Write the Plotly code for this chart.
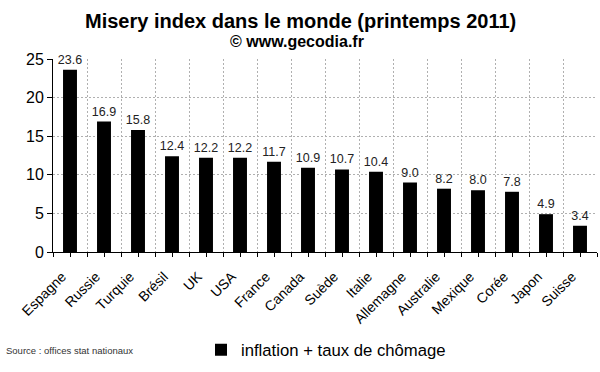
import plotly.graph_objects as go

countries = ["Espagne", "Russie", "Turquie", "Brésil", "UK", "USA", "France", "Canada",
             "Suède", "Italie", "Allemagne", "Australie", "Mexique", "Corée", "Japon", "Suisse"]
misery = [23.6, 16.9, 15.8, 12.4, 12.2, 12.2, 11.7, 10.9, 10.7, 10.4, 9.0, 8.2, 8.0, 7.8, 4.9, 3.4]
y_ticks = [0, 5, 10, 15, 20, 25]

FONT = "Liberation Sans, Arial, sans-serif"
L, R, T, B = 53, 3, 59, 120
W, H = 600, 372
pw, ph = W - L - R, H - T - B


def px2x(px):
    return (px - L) / pw


def px2y(py):
    return (H - B - py) / ph


idx = list(range(len(countries)))

fig = go.Figure()
fig.add_trace(go.Bar(
    x=idx, y=misery, name="inflation + taux de chômage",
    marker=dict(color="black", line=dict(color="black", width=0)),
    text=[f"{v:.1f}" for v in misery], textposition="outside",
    textfont=dict(size=12.5, color="#222", family=FONT),
    constraintext="none",
    cliponaxis=False, showlegend=True,
))

fig.update_layout(
    width=W, height=H,
    margin=dict(l=L, r=R, t=T, b=B, autoexpand=False),
    paper_bgcolor="white", plot_bgcolor="white",
    font=dict(family=FONT, color="black"),
    bargap=0.59,
    showlegend=True,
    legend=dict(orientation="h", x=px2x(201), xanchor="left", y=px2y(350), yanchor="middle",
                font=dict(size=16.7, family=FONT), bgcolor="rgba(0,0,0,0)"),
    xaxis=dict(
        type="linear", range=[-0.5, len(countries) - 0.5],
        tickvals=idx, ticktext=countries,
        tickangle=-45, tickfont=dict(size=14),
        ticklabelshift=-8, ticklabelstandoff=6,
        ticks="outside", ticklen=4, tickcolor="black",
        showgrid=False, zeroline=False,
        minor=dict(tick0=-0.5, dtick=1, ticks="outside", ticklen=4, tickcolor="black",
                   showgrid=True, gridcolor="#b0b0b0", griddash="2px,2px", gridwidth=1),
        showline=True, linecolor="black", linewidth=1, automargin=False,
    ),
    yaxis=dict(
        range=[0, 25], tickvals=y_ticks, tickfont=dict(size=16),
        ticks="outside", ticklen=5, tickcolor="black",
        showgrid=True, gridcolor="#b0b0b0", griddash="2px,2px", gridwidth=1,
        showline=True, linecolor="black", linewidth=1, zeroline=False, automargin=False,
    ),
    annotations=[
        dict(text="<b>Misery index dans le monde (printemps 2011)</b>",
             x=px2x(300), y=px2y(21), xref="paper", yref="paper", showarrow=False,
             xanchor="center", yanchor="middle", font=dict(size=20)),
        dict(text="<b>© www.gecodia.fr</b>",
             x=px2x(297), y=px2y(42), xref="paper", yref="paper", showarrow=False,
             xanchor="center", yanchor="middle", font=dict(size=16)),
        dict(text="Source : offices stat nationaux",
             x=px2x(4), y=px2y(350), xref="paper", yref="paper", showarrow=False,
             xanchor="left", yanchor="middle", font=dict(size=9.5, color="#333")),
    ],
)

fig.write_html("out.html", config={"displayModeBar": False},
               post_script="document.body.style.margin='0';")
